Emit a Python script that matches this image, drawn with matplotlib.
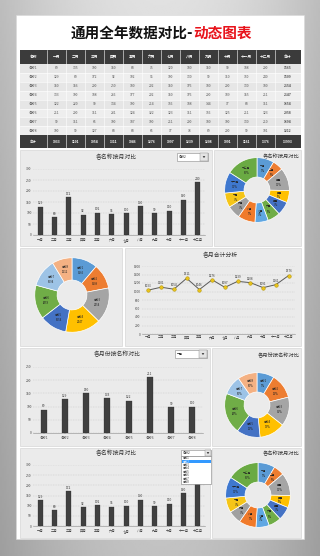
import numpy as np
import matplotlib.pyplot as plt
from matplotlib.patches import Rectangle, Polygon

plt.rcParams['font.family'] = ['Noto Sans CJK SC', 'DejaVu Sans']

months = ['一月', '二月', '三月', '四月', '五月', '六月', '七月', '八月', '九月', '十月', '十一月', '十二月']
names = ['名称1', '名称2', '名称3', '名称4', '名称5', '名称6', '名称7', '名称8']
n1 = [89, 135, 100, 150, 88, 75, 120, 180, 150, 90, 188, 200]
n2 = [129, 80, 172, 92, 102, 95, 100, 130, 99, 110, 160, 240]
n3 = [150, 156, 200, 250, 180, 202, 150, 176, 180, 200, 130, 180]
n4 = [133, 100, 188, 266, 177, 202, 150, 176, 200, 189, 155, 211]
n5 = [122, 220, 90, 134, 100, 214, 166, 188, 144, 77, 88, 111]
n6 = [211, 200, 111, 231, 124, 322, 123, 111, 166, 125, 211, 123]
n7 = [99, 111, 66, 100, 187, 100, 211, 200, 180, 100, 130, 210]
n8 = [100, 99, 127, 88, 88, 66, 77, 78, 89, 200, 99, 101]

data = np.array([n1, n2, n3, n4, n5, n6, n7, n8])
row_tot = data.sum(axis=1)
col_tot = data.sum(axis=0)
grand = data.sum()

sel_name = 1   # 名称2
sel_month = 0  # 一月

month_cols = ['#5b9bd5', '#ed7d31', '#a5a5a5', '#ffc000', '#4472c4', '#70ad47',
              '#5fa7e3', '#f07a2a', '#a0a0a0', '#f5c518', '#3f78cf', '#6aaa43']
name_cols = ['#5b9bd5', '#ed7d31', '#a5a5a5', '#ffc000', '#4472c4', '#70ad47',
             '#9dc3e6', '#f4b183']

W, H = 320, 556
fig = plt.figure(figsize=(W / 100, H / 100), dpi=100)


def ax_px(x0, y0, x1, y1):
    return fig.add_axes([x0 / W, 1 - y1 / H, (x1 - x0) / W, (y1 - y0) / H])


# background, card, panels, table
bg = ax_px(0, 0, W, H)
bg.set_xlim(0, W)
bg.set_ylim(H, 0)
bg.axis('off')
gx = np.linspace(-1, 1, 200)
gy = np.linspace(0, 1, 300)
GX, GY = np.meshgrid(gx, gy)
grad = 0.88 - 0.14 * GX ** 2 - 0.12 * GY
bg.imshow(grad, cmap='gray', vmin=0, vmax=1, extent=[0, W, H, 0], aspect='auto')
bg.add_patch(Rectangle((16, 15), 288, 524, fc='white', ec='#d8d8d8', lw=0.4))

bg.text(193, 33, '通用全年数据对比-', ha='right', va='center', fontsize=10.5,
        fontweight='bold', color='#111111')
bg.text(193, 33, '动态图表', ha='left', va='center', fontsize=10.5,
        fontweight='bold', color='#e8131b')

panels = [(20, 150, 212, 246), (214, 150, 301, 246), (20, 248, 122, 346),
          (125, 248, 301, 346), (20, 348, 210, 446), (212, 348, 301, 446),
          (20, 448, 210, 538), (212, 448, 301, 538)]
for x0, y0, x1, y1 in panels:
    bg.add_patch(Rectangle((x0, y0), x1 - x0, y1 - y0, fc='#ebebeb', ec='#cfcfcf', lw=0.4))

# table
col_x = [20, 47] + [47 + 19 * (i + 1) for i in range(12)] + [301]
col_x[-2] = 275
row_y = [50, 64] + [64 + 8.9 * (i + 1) for i in range(8)] + [148]
header = ['名称'] + months + ['合计']
bg.add_patch(Rectangle((20, 50), 281, 14, fc='#3b3b3b', ec='none'))
bg.add_patch(Rectangle((20, row_y[9]), 281, 148 - row_y[9], fc='#3b3b3b', ec='none'))
for r in range(8):
    bg.add_patch(Rectangle((20, row_y[r + 1]), 281, row_y[r + 2] - row_y[r + 1],
                           fc='#e6e6e6' if r % 2 == 0 else '#eeeeee', ec='none'))
for x in col_x[1:-1]:
    bg.plot([x, x], [50, 148], color='#ffffff', lw=0.4)
for y in row_y[2:-2]:
    bg.plot([20, 301], [y, y], color='#ffffff', lw=0.4)
for c in range(14):
    cx = (col_x[c] + col_x[c + 1]) / 2
    bg.text(cx, 57, header[c], ha='center', va='center', fontsize=2.7,
            color='white', fontweight='bold')
    for r in range(8):
        cy = (row_y[r + 1] + row_y[r + 2]) / 2
        if c == 0:
            s, fw = names[r], 'normal'
        elif c == 13:
            s, fw = str(row_tot[r]), 'bold'
        else:
            s, fw = str(data[r, c - 1]), 'normal'
        bg.text(cx, cy, s, ha='center', va='center', fontsize=2.4, color='#555555',
                fontweight=fw)
    s = '合计' if c == 0 else (str(grand) if c == 13 else str(col_tot[c - 1]))
    bg.text(cx, (row_y[9] + 148) / 2, s, ha='center', va='center', fontsize=2.4,
            color='white', fontweight='bold')


def bar_chart(box, cats, vals, ymax, step, width, show_last=True):
    ax = ax_px(*box)
    ax.set_facecolor('none')
    x = np.arange(len(cats))
    ax.bar(x, vals, width=width, color='#404040', edgecolor='#2a2a2a', lw=0.2, zorder=3)
    for i, v in enumerate(vals):
        if i == len(vals) - 1 and not show_last:
            continue
        ax.text(i, v + ymax * 0.02, str(v), ha='center', va='bottom', fontsize=2.3,
                color='#333333')
    ax.set_xlim(-0.5, len(cats) - 0.5)
    ax.set_ylim(0, ymax)
    ax.set_yticks(np.arange(0, ymax + 1, step))
    ax.set_xticks(x)
    ax.set_xticklabels(cats)
    ax.tick_params(labelsize=2.4, length=1, width=0.3, pad=1, colors='#444444')
    ax.tick_params(axis='y', length=0)
    ax.grid(axis='y', ls=(0, (2, 2)), lw=0.3, color='#bdbdbd', zorder=0)
    for s in ['top', 'right', 'left']:
        ax.spines[s].set_visible(False)
    ax.spines['bottom'].set_linewidth(0.4)
    ax.spines['bottom'].set_color('#8a8a8a')
    return ax


def donut(center, r, vals, labels, cols, fmt):
    cx, cy = center
    ax = ax_px(cx - r, cy - r, cx + r, cy + r)
    ax.pie(vals, colors=cols, startangle=90, counterclock=False, radius=1,
           wedgeprops=dict(width=0.6, edgecolor='white', linewidth=0.5))
    tot = sum(vals)
    ang = 90
    for v, lab in zip(vals, labels):
        a = np.deg2rad(ang - 180 * v / tot)
        ang -= 360 * v / tot
        ax.text(0.7 * np.cos(a), 0.7 * np.sin(a), fmt(lab, v, tot), ha='center',
                va='center', fontsize=2.0, color='#222222', linespacing=1.3)
    ax.set_xlim(-1.02, 1.02)
    ax.set_ylim(-1.02, 1.02)
    ax.set_aspect('equal')
    ax.axis('off')
    return ax


def pct(lab, v, tot):
    return '%s\n%d%%' % (lab, round(100 * v / tot))


def tot_lab(lab, v, tot):
    return '%s\n%d' % (lab, v)


# panel 1: bar by month for selected name
bar_chart((33, 169, 205, 235), months, list(data[sel_name]), 300, 50, 0.36)
bg.text(116, 157, '各名称按月对比', ha='center', va='center', fontsize=4.2, color='#333333')

# panel 2: donut months
donut((257, 190), 33, list(data[sel_name]), months, month_cols, pct)
bg.text(300, 157, '各名称按月对比', ha='right', va='center', fontsize=3.8, color='#333333')

# panel 3: donut names totals
donut((72, 295), 38, list(row_tot), names, name_cols, tot_lab)

# panel 4: line chart of month totals
lx = ax_px(142, 266, 295, 334)
lx.set_facecolor('none')
lx.plot(range(12), col_tot, color='#595959', lw=0.7, marker='o', ms=2.6,
        mfc='#e8c21a', mec='#a88a00', mew=0.3, zorder=3)
for i, v in enumerate(col_tot):
    lx.text(i, v + 50, str(v), ha='center', va='bottom', fontsize=2.2, color='#333333')
lx.set_xlim(-0.5, 11.5)
lx.set_ylim(0, 1600)
lx.set_yticks(range(0, 1601, 200))
lx.set_xticks(range(12))
lx.set_xticklabels(months)
lx.tick_params(labelsize=2.3, length=0, pad=1, colors='#444444')
lx.grid(axis='y', ls=(0, (2, 2)), lw=0.3, color='#bdbdbd', zorder=0)
for s in ['top', 'right', 'left']:
    lx.spines[s].set_visible(False)
lx.spines['bottom'].set_linewidth(0.4)
lx.spines['bottom'].set_color('#8a8a8a')
bg.text(220, 255, '各月合计分析', ha='center', va='center', fontsize=4.2, color='#333333')

# panel 5: bar by name for selected month
bar_chart((33, 367, 203, 433), names, list(data[:, sel_month]), 250, 50, 0.28)
bg.text(117, 354, '各月份按名称对比', ha='center', va='center', fontsize=4.2, color='#333333')

# panel 6: donut names for month
donut((257, 405), 33, list(data[:, sel_month]), names, name_cols, pct)
bg.text(300, 355, '各月份按名称对比', ha='right', va='center', fontsize=3.8, color='#333333')

# panel 7: bar by month again
bar_chart((33, 465, 205, 526), months, list(data[sel_name]), 300, 50, 0.36, show_last=False)
bg.text(116, 453, '各名称按月对比', ha='center', va='center', fontsize=4.2, color='#333333')

# panel 8: donut months again
donut((258, 495), 33, list(data[sel_name]), months, month_cols, pct)
bg.text(300, 454, '各名称按月对比', ha='right', va='center', fontsize=3.8, color='#333333')

# dropdown overlays
ov = ax_px(0, 0, W, H)
ov.set_xlim(0, W)
ov.set_ylim(H, 0)
ov.axis('off')
ov.patch.set_alpha(0)


def dropdown(x0, y0, x1, y1, txt):
    ov.add_patch(Rectangle((x0, y0), x1 - x0, y1 - y0, fc='white', ec='#8a8a8a', lw=0.4))
    bw = y1 - y0
    ov.add_patch(Rectangle((x1 - bw, y0), bw, bw, fc='#e4e4e4', ec='#8a8a8a', lw=0.3))
    mx, my = x1 - bw / 2, (y0 + y1) / 2
    ov.add_patch(Polygon([(mx - 1.3, my - 0.8), (mx + 1.3, my - 0.8), (mx, my + 1)],
                         fc='#222222', ec='none'))
    ov.text(x0 + 1.5, my, txt, ha='left', va='center', fontsize=2.2, color='#222222')


dropdown(177, 153, 208, 161, names[sel_name])
dropdown(175, 350, 207, 358, months[sel_month])
dropdown(181, 450, 211, 456, names[sel_name])
ov.add_patch(Rectangle((181, 456), 30, 28, fc='white', ec='#7a7a7a', lw=0.4))
for i, nm in enumerate(names):
    y = 456.5 + i * 3.4
    if i == sel_name:
        ov.add_patch(Rectangle((181.5, y), 29, 3.4, fc='#3399ff', ec='none'))
    ov.text(183, y + 1.7, nm, ha='left', va='center', fontsize=1.9,
            color='white' if i == sel_name else '#222222')

fig.savefig('out.png', dpi=100)
